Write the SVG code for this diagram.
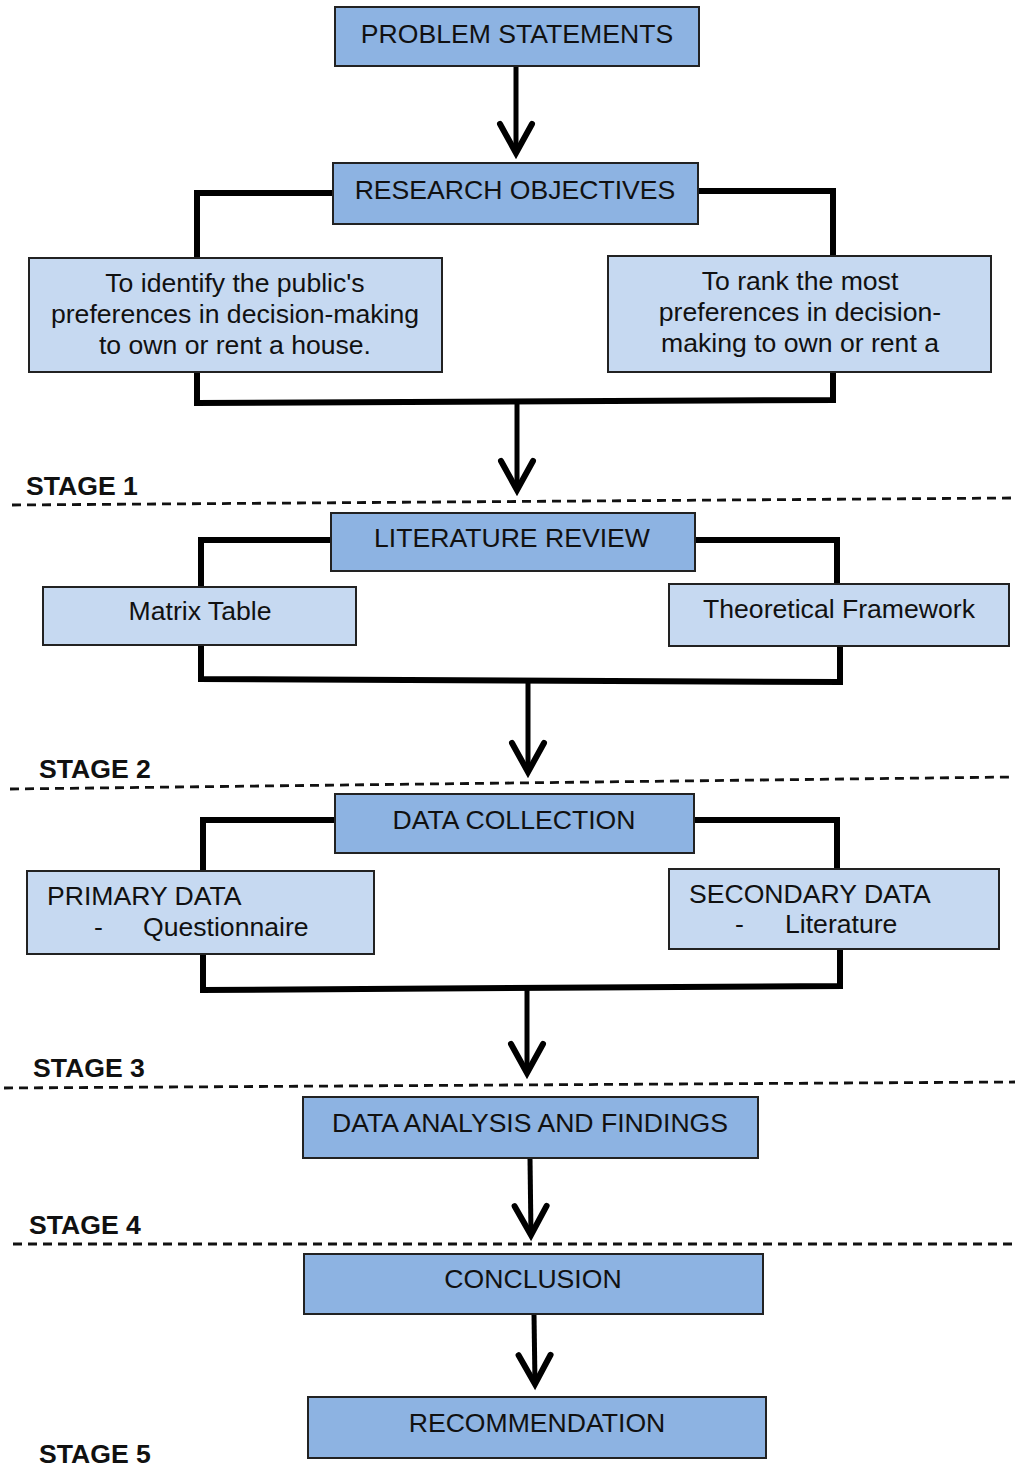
<svg xmlns="http://www.w3.org/2000/svg" width="1019" height="1469" viewBox="0 0 1019 1469">
<style>
.main{fill:#8DB3E2;stroke:#222;stroke-width:2}
.sub{fill:#C6D9F1;stroke:#222;stroke-width:2}
text{font-family:"Liberation Sans",Arial,sans-serif;font-size:26.6px;fill:#111}
.c{text-anchor:middle}
.stage{font-weight:bold;font-size:26.6px}
.br{fill:none;stroke:#000;stroke-width:6;stroke-linejoin:miter}
.ar{fill:none;stroke:#000;stroke-width:5}
.dash{fill:none;stroke:#111;stroke-width:2.8;stroke-dasharray:9 6}
</style>
<defs>
<marker id="ah" markerUnits="userSpaceOnUse" markerWidth="40" markerHeight="40" refX="36" refY="20" orient="auto" overflow="visible">
<path d="M 7,4 L 36,20 L 7,36" fill="none" stroke="#000" stroke-width="6" stroke-linejoin="miter" stroke-linecap="round" stroke-miterlimit="10"/>
</marker>
</defs>
<rect width="1019" height="1469" fill="#fff"/>
<g id="connectors">
<path class="br" d="M 333,193 H 197 V 258"/>
<path class="br" d="M 698,191 H 833 V 256"/>
<path class="br" d="M 197,372 V 403 L 833,400 V 372"/>
<path class="ar" d="M 516,66 V 153" marker-end="url(#ah)"/>
<path class="ar" d="M 517,401 V 490" marker-end="url(#ah)"/>
<path class="br" d="M 331,540 H 201 V 587"/>
<path class="br" d="M 695,540 H 837 V 584"/>
<path class="br" d="M 201,645 V 679 L 840,682 V 646"/>
<path class="ar" d="M 528,680 V 772" marker-end="url(#ah)"/>
<path class="br" d="M 335,820 H 203 V 871"/>
<path class="br" d="M 694,820 H 837 V 869"/>
<path class="br" d="M 203,954 V 990 L 840,986 V 949"/>
<path class="ar" d="M 527,988 V 1073" marker-end="url(#ah)"/>
<path class="ar" d="M 530,1158 L 531,1235" marker-end="url(#ah)"/>
<path class="ar" d="M 534,1314 L 535,1384" marker-end="url(#ah)"/>
</g>
<g id="stage-lines">
<path class="dash" d="M 12,505 L 1013,498"/>
<path class="dash" d="M 10,789 L 1012,777"/>
<path class="dash" d="M 4,1088 L 1015,1082"/>
<path class="dash" d="M 13,1244 L 1015,1244"/>
</g>
<g id="stage1"><text class="stage" x="26" y="495">STAGE 1</text></g>
<g id="stage2"><text class="stage" x="39" y="778">STAGE 2</text></g>
<g id="stage3"><text class="stage" x="33" y="1077">STAGE 3</text></g>
<g id="stage4"><text class="stage" x="29" y="1234">STAGE 4</text></g>
<g id="stage5"><text class="stage" x="39" y="1463">STAGE 5</text></g>
<g id="problem-statements">
<rect class="main" x="335" y="7" width="364" height="59"/>
<text class="c" x="517" y="43">PROBLEM STATEMENTS</text>
</g>
<g id="research-objectives">
<rect class="main" x="333" y="163" width="365" height="61"/>
<text class="c" x="515" y="199">RESEARCH OBJECTIVES</text>
</g>
<g id="objective-1">
<rect class="sub" x="29" y="258" width="413" height="114"/>
<text class="c" x="235" y="292">To identify the public's</text>
<text class="c" x="235" y="323">preferences in decision-making</text>
<text class="c" x="235" y="354">to own or rent a house.</text>
</g>
<g id="objective-2">
<rect class="sub" x="608" y="256" width="383" height="116"/>
<text class="c" x="800" y="290">To rank the most</text>
<text class="c" x="800" y="321">preferences in decision-</text>
<text class="c" x="800" y="352">making to own or rent a</text>
</g>
<g id="literature-review">
<rect class="main" x="331" y="513" width="364" height="58"/>
<text class="c" x="512" y="547">LITERATURE REVIEW</text>
</g>
<g id="matrix-table">
<rect class="sub" x="43" y="587" width="313" height="58"/>
<text class="c" x="200" y="620">Matrix Table</text>
</g>
<g id="theoretical-framework">
<rect class="sub" x="669" y="584" width="340" height="62"/>
<text class="c" x="839" y="618">Theoretical Framework</text>
</g>
<g id="data-collection">
<rect class="main" x="335" y="794" width="359" height="59"/>
<text class="c" x="514" y="829">DATA COLLECTION</text>
</g>
<g id="primary-data">
<rect class="sub" x="27" y="871" width="347" height="83"/>
<text x="47" y="905">PRIMARY DATA</text>
<text x="94" y="936">-</text>
<text x="143" y="936">Questionnaire</text>
</g>
<g id="secondary-data">
<rect class="sub" x="669" y="869" width="330" height="80"/>
<text x="689" y="903">SECONDARY DATA</text>
<text x="735" y="933">-</text>
<text x="785" y="933">Literature</text>
</g>
<g id="data-analysis">
<rect class="main" x="303" y="1097" width="455" height="61"/>
<text class="c" x="530" y="1132">DATA ANALYSIS AND FINDINGS</text>
</g>
<g id="conclusion">
<rect class="main" x="304" y="1254" width="459" height="60"/>
<text class="c" x="533" y="1288">CONCLUSION</text>
</g>
<g id="recommendation">
<rect class="main" x="308" y="1397" width="458" height="61"/>
<text class="c" x="537" y="1432">RECOMMENDATION</text>
</g>
</svg>
